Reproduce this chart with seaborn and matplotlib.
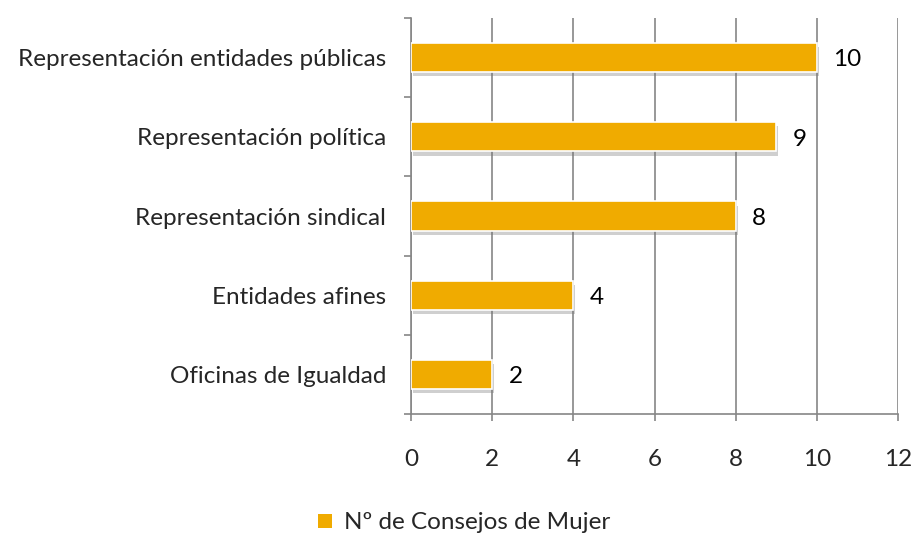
import matplotlib
matplotlib.use("Agg")
import matplotlib.pyplot as plt
import matplotlib.patheffects as pe
from matplotlib.patches import Patch
import seaborn as sns
import numpy as np
import pandas as pd

categories = ["Representación entidades públicas", "Representación política",
              "Representación sindical", "Entidades afines", "Oficinas de Igualdad"]
values = [10, 9, 8, 4, 2]
series_name = "Nº de Consejos de Mujer"
xticks = [0, 2, 4, 6, 8, 10, 12]

df = pd.DataFrame({"categoria": categories, "valor": values})

sns.set_style("white")
plt.rcParams["font.family"] = ["Lato", "DejaVu Sans"]

fig = plt.figure(figsize=(9.14, 5.38), dpi=100)
ax = fig.add_axes([0.4497, 0.2305, 0.5328, 0.736])

bar_col = "#F0AB00"
grid_col = "#868686"
fs = 17.5

sns.barplot(data=df, y="categoria", x="valor", color=bar_col, width=0.37,
            edgecolor="white", linewidth=1.2, saturation=1, ax=ax, zorder=3)

# soft drop shadow under the bars
for p in ax.patches:
    p.set_path_effects([pe.SimplePatchShadow(offset=(1.5, -3), shadow_rgbFace="#777777", alpha=0.35),
                        pe.Normal()])

for i, v in enumerate(values):
    ax.text(v + 0.4, i + 0.03, str(v), va="center", ha="left", fontsize=fs, color="black")

ax.set_xlim(0, 12)
ax.set_ylim(len(categories) - 0.5, -0.5)
ax.set_xticks(xticks)
ax.set_xticklabels([str(t) for t in xticks], fontsize=fs)
ax.set_yticks(range(len(categories)))
ax.set_yticklabels(categories, fontsize=fs)
ax.set_yticks(np.arange(-0.5, len(categories), 1), minor=True)
ax.tick_params(axis="y", which="major", left=True, length=0, pad=18)
ax.tick_params(axis="y", which="minor", left=True, length=5, color=grid_col, direction="out", width=1.2)
ax.tick_params(axis="x", which="major", bottom=True, length=5, color=grid_col, direction="out", width=1.2, pad=20)
ax.set_xlabel("")
ax.set_ylabel("")

ax.grid(axis="x", color=grid_col, linewidth=1.2, zorder=0)
ax.set_axisbelow(True)
for s in ["top", "right"]:
    ax.spines[s].set_visible(False)
for s in ["left", "bottom"]:
    ax.spines[s].set_color(grid_col)
    ax.spines[s].set_linewidth(1.2)

handles = [Patch(facecolor=bar_col, edgecolor="none", label=series_name)]
fig.legend(handles=handles, loc="center", bbox_to_anchor=(0.508, 0.028), frameon=False,
           fontsize=fs, handlelength=0.55, handleheight=0.55, handletextpad=0.5)

fig.savefig("out.png", dpi=100)
